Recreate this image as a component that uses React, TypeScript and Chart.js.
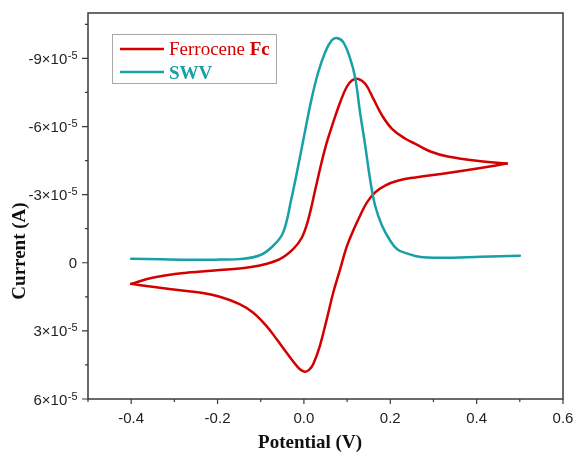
import React, { useEffect, useRef } from 'react';
import { Chart, registerables } from 'chart.js';

Chart.register(...registerables);

// Ferrocene cyclic voltammogram, forward (anodic) sweep: potential in V, current in A
const fcForwardPotential = [
  -0.400, -0.351, -0.272, -0.195, -0.149, -0.102, -0.056, -0.025, -0.005, 0.010,
  0.029, 0.049, 0.068, 0.084, 0.099, 0.111, 0.125, 0.142, 0.161, 0.181,
  0.204, 0.235, 0.258, 0.293, 0.333, 0.409, 0.470,
];
const fcForwardCurrent = [
  0.93e-5, 0.66e-5, 0.44e-5, 0.32e-5, 0.25e-5, 0.12e-5, -0.16e-5, -0.60e-5, -1.10e-5, -1.90e-5,
  -3.45e-5, -5.03e-5, -6.19e-5, -7.07e-5, -7.74e-5, -8.03e-5, -8.10e-5, -7.88e-5, -7.22e-5, -6.49e-5,
  -5.90e-5, -5.46e-5, -5.24e-5, -4.90e-5, -4.68e-5, -4.47e-5, -4.37e-5,
];
// Reverse (cathodic) sweep, listed by increasing potential
const fcReversePotential = [
  -0.400, -0.351, -0.272, -0.242, -0.195, -0.149, -0.118, -0.087, -0.063, -0.040,
  -0.021, -0.010, 0.002, 0.012, 0.022, 0.037, 0.053, 0.068, 0.084, 0.099,
  0.115, 0.130, 0.146, 0.165, 0.188, 0.219, 0.258, 0.333, 0.409, 0.470,
];
const fcReverseCurrent = [
  0.93e-5, 1.06e-5, 1.24e-5, 1.31e-5, 1.50e-5, 1.82e-5, 2.19e-5, 2.78e-5, 3.37e-5, 3.96e-5,
  4.44e-5, 4.68e-5, 4.80e-5, 4.72e-5, 4.45e-5, 3.66e-5, 2.48e-5, 1.31e-5, 0.28e-5, -0.70e-5,
  -1.45e-5, -2.07e-5, -2.66e-5, -3.10e-5, -3.40e-5, -3.62e-5, -3.76e-5, -3.95e-5, -4.17e-5, -4.37e-5,
];

// Square wave voltammetry
const swvPotential = [
  -0.400, -0.330, -0.265, -0.195, -0.149, -0.102, -0.071, -0.048, -0.029, -0.013,
  0.002, 0.018, 0.033, 0.049, 0.064, 0.076, 0.091, 0.107, 0.119, 0.130,
  0.142, 0.153, 0.165, 0.181, 0.200, 0.216, 0.240, 0.270, 0.316, 0.409,
  0.500,
];
const swvCurrent = [
  -0.18e-5, -0.15e-5, -0.13e-5, -0.14e-5, -0.16e-5, -0.33e-5, -0.75e-5, -1.34e-5, -2.82e-5, -4.28e-5,
  -5.74e-5, -7.24e-5, -8.38e-5, -9.26e-5, -9.79e-5, -9.90e-5, -9.72e-5, -9.00e-5, -8.12e-5, -6.62e-5,
  -5.16e-5, -3.71e-5, -2.51e-5, -1.63e-5, -0.97e-5, -0.60e-5, -0.40e-5, -0.25e-5, -0.22e-5, -0.26e-5,
  -0.31e-5,
];

const xMajorValues = [-0.4, -0.2, 0, 0.2, 0.4, 0.6];
const xMajorLabels = ['-0.4', '-0.2', '0.0', '0.2', '0.4', '0.6'];
const xMinorValues = [-0.5, -0.3, -0.1, 0.1, 0.3, 0.5];

const yMajorValues = [-9e-5, -6e-5, -3e-5, 0, 3e-5, 6e-5];
const yLabelBases = ['-9×10', '-6×10', '-3×10', '0', '3×10', '6×10'];
const yLabelExponents = ['-5', '-5', '-5', '', '-5', '-5'];
const yMinorValues = [-10.5e-5, -7.5e-5, -4.5e-5, -1.5e-5, 1.5e-5, 4.5e-5];

const seriesNames = ['Ferrocene ', 'Fc', 'SWV'];
const axisTitles = ['Potential (V)', 'Current (A)'];

const RED = '#d40000';
const TEAL = '#17a0a6';

function labelFor(values: number[], labels: string[], v: number, tol: number) {
  for (let i = 0; i < values.length; i++) {
    if (Math.abs(values[i] - v) < tol) return labels[i];
  }
  return '';
}

const decorPlugin = {
  id: 'decor',
  afterDraw(chart: any) {
    const { ctx, chartArea } = chart;
    const { left, right, top, bottom } = chartArea;
    const xs = chart.scales.x;
    const ys = chart.scales.y;
    ctx.save();
    // frame
    ctx.strokeStyle = '#3a3a3a';
    ctx.lineWidth = 1.5;
    ctx.strokeRect(left, top, right - left, bottom - top);
    // ticks
    ctx.lineWidth = 1.2;
    ctx.beginPath();
    xMajorValues.forEach((v) => {
      const p = xs.getPixelForValue(v);
      ctx.moveTo(p, bottom);
      ctx.lineTo(p, bottom + 5);
    });
    xMinorValues.forEach((v) => {
      const p = xs.getPixelForValue(v);
      ctx.moveTo(p, bottom);
      ctx.lineTo(p, bottom + 3);
    });
    yMajorValues.forEach((v) => {
      const p = ys.getPixelForValue(v);
      ctx.moveTo(left, p);
      ctx.lineTo(left - 6, p);
    });
    yMinorValues.forEach((v) => {
      const p = ys.getPixelForValue(v);
      ctx.moveTo(left, p);
      ctx.lineTo(left - 3, p);
    });
    ctx.stroke();

    // y tick labels with superscript exponent
    ctx.fillStyle = '#222';
    ctx.textBaseline = 'alphabetic';
    ctx.textAlign = 'left';
    const rightEdge = left - 11;
    yMajorValues.forEach((v, i) => {
      const p = ys.getPixelForValue(v);
      ctx.font = '15px "Liberation Sans"';
      const wb = ctx.measureText(yLabelBases[i]).width;
      ctx.font = '11px "Liberation Sans"';
      const we = yLabelExponents[i] ? ctx.measureText(yLabelExponents[i]).width : 0;
      const x0 = rightEdge - wb - we;
      ctx.font = '15px "Liberation Sans"';
      ctx.fillText(yLabelBases[i], x0, p + 5.5);
      if (yLabelExponents[i]) {
        ctx.font = '11px "Liberation Sans"';
        ctx.fillText(yLabelExponents[i], x0 + wb + 0.5, p + 0.5);
      }
    });

    // axis titles
    ctx.fillStyle = '#111';
    ctx.font = 'bold 19px "Liberation Serif"';
    ctx.textAlign = 'center';
    ctx.textBaseline = 'alphabetic';
    ctx.fillText(axisTitles[0], 310, 448);
    ctx.save();
    ctx.translate(25, 251);
    ctx.rotate(-Math.PI / 2);
    ctx.fillText(axisTitles[1], 0, 0);
    ctx.restore();

    // legend
    ctx.strokeStyle = '#a8a8a8';
    ctx.lineWidth = 1;
    ctx.strokeRect(112.5, 34.5, 164, 49);
    ctx.lineWidth = 2.5;
    ctx.strokeStyle = RED;
    ctx.beginPath();
    ctx.moveTo(120, 49);
    ctx.lineTo(164, 49);
    ctx.stroke();
    ctx.strokeStyle = TEAL;
    ctx.beginPath();
    ctx.moveTo(120, 72);
    ctx.lineTo(164, 72);
    ctx.stroke();
    ctx.textAlign = 'left';
    ctx.fillStyle = RED;
    ctx.font = '19px "Liberation Serif"';
    ctx.fillText(seriesNames[0], 169, 55);
    const w = ctx.measureText(seriesNames[0]).width;
    ctx.font = 'bold 19px "Liberation Serif"';
    ctx.fillText(seriesNames[1], 169 + w, 55);
    ctx.fillStyle = TEAL;
    ctx.fillText(seriesNames[2], 169, 79);
    ctx.restore();
  },
};

export default function App() {
  const ref = useRef<HTMLCanvasElement | null>(null);

  useEffect(() => {
    if (!ref.current) return;
    const fwd = fcForwardPotential.map((x, i) => ({ x, y: fcForwardCurrent[i] }));
    const rev = fcReversePotential.map((x, i) => ({ x, y: fcReverseCurrent[i] }));
    const swv = swvPotential.map((x, i) => ({ x, y: swvCurrent[i] }));
    const lineBase = {
      showLine: true,
      borderWidth: 2.5,
      pointRadius: 0,
      tension: 0.4,
      borderCapStyle: 'round' as const,
      borderJoinStyle: 'round' as const,
    };
    const chart = new Chart(ref.current, {
      type: 'scatter',
      data: {
        datasets: [
          { ...lineBase, label: 'Ferrocene Fc', data: fwd, borderColor: RED, backgroundColor: RED, order: 1 },
          { ...lineBase, label: 'Ferrocene Fc (reverse)', data: rev, borderColor: RED, backgroundColor: RED, order: 2 },
          { ...lineBase, label: 'SWV', data: swv, borderColor: TEAL, backgroundColor: TEAL, order: 0 },
        ],
      },
      options: {
        responsive: false,
        animation: false,
        devicePixelRatio: 1,
        layout: { padding: { top: 13, right: 11, left: 0, bottom: 0 } },
        plugins: {
          legend: { display: false },
          tooltip: { enabled: false },
        },
        scales: {
          x: {
            type: 'linear',
            min: -0.5,
            max: 0.6,
            grid: { display: false },
            border: { display: false },
            afterBuildTicks: (scale: any) => {
              scale.ticks = [...xMajorValues, ...xMinorValues]
                .sort((a, b) => a - b)
                .map((value) => ({ value }));
            },
            afterFit: (scale: any) => {
              scale.height = 53;
              scale.paddingLeft = 0;
              scale.paddingRight = 0;
            },
            ticks: {
              autoSkip: false,
              maxRotation: 0,
              padding: 3,
              color: '#222',
              font: { family: '"Liberation Sans"', size: 15 },
              callback: (v: any) => labelFor(xMajorValues, xMajorLabels, Number(v), 1e-6),
            },
          },
          y: {
            type: 'linear',
            reverse: true,
            min: -1.1e-4,
            max: 6e-5,
            grid: { display: false },
            border: { display: false },
            afterFit: (scale: any) => {
              scale.width = 88;
              scale.paddingTop = 0;
              scale.paddingBottom = 0;
            },
            ticks: { display: false },
          },
        },
      },
      plugins: [decorPlugin],
    });
    return () => chart.destroy();
  }, []);

  return (
    <div style={{ position: 'fixed', left: 0, top: 0, width: 574, height: 452, background: '#fff' }}>
      <canvas ref={ref} width={574} height={452} style={{ display: 'block', width: 574, height: 452 }} />
    </div>
  );
}
